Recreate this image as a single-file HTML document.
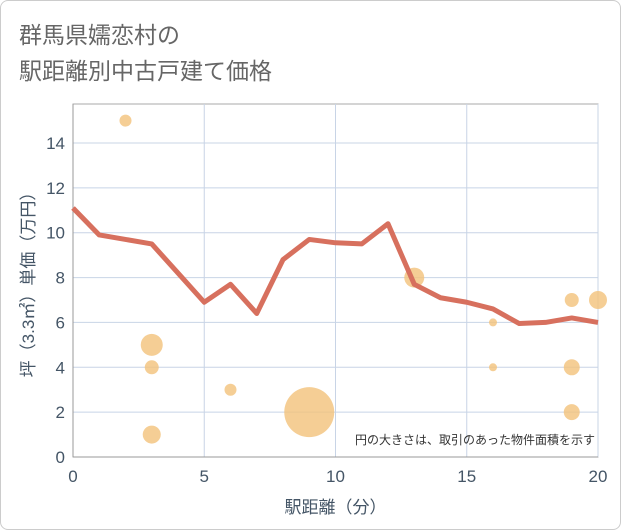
<!DOCTYPE html>
<html><head><meta charset="utf-8">
<style>
body{margin:0;background:#fff;}
#wrap{position:relative;width:619px;height:528px;border:1px solid #ccc;border-radius:8px;overflow:hidden;background:#fff;}
text{font-family:"Liberation Sans","Noto Sans CJK JP",sans-serif;}
</style></head>
<body>
<div id="wrap">
<svg id="chart" width="621" height="530">
<text x="18" y="42" font-size="23" fill="#666">群馬県嬬恋村の</text>
<text x="18" y="78" font-size="23" fill="#666">駅距離別中古戸建て価格</text>
</svg>
</div>
<script>
const xTicks=[0,5,10,15,20];
const yTicks=[0,2,4,6,8,10,12,14];
const lineX=[0,1,2,3,4,5,6,7,8,9,10,11,12,13,14,15,16,17,18,19,20];
const lineY=[11.1,9.9,9.7,9.5,8.2,6.9,7.7,6.4,8.8,9.7,9.55,9.5,10.4,7.7,7.1,6.9,6.6,5.95,6.0,6.2,6.0];
const bubX=[2,3,3,3,6,9,13,16,16,19,19,19,20];
const bubY=[15,5,4,1,3,2,8,6,4,7,4,2,7];
const bubR=[6,11,7,9,6,25,10,4,4,7,8,8,9];
const svg=document.getElementById('chart');
const NS='http://www.w3.org/2000/svg';
const L=72,R=597,T=103,B=456;
const sx=v=>L+(v-0)/(20-0)*(R-L);
const sy=v=>B-(v/14)*(456-142);
function mk(tag,attrs,parent){const e=document.createElementNS(NS,tag);for(const k in attrs)e.setAttribute(k,attrs[k]);(parent||svg).appendChild(e);return e;}
const plot=mk('rect',{x:L,y:T,width:R-L,height:B-T,fill:'#fff',stroke:'#aaa','stroke-width':1});


yTicks.forEach(t=>{
 const g=mk('line',{x1:L,x2:R,y1:sy(t),y2:sy(t),stroke:'#c8d4e6','stroke-width':1});
 
 
 const tx=mk('text',{x:L-8,y:sy(t)+6,'text-anchor':'end','font-size':17,fill:'#445566'});
 tx.textContent=t;
 
 
});
xTicks.forEach(t=>{
 const g=mk('line',{x1:sx(t),x2:sx(t),y1:T,y2:B,stroke:'#c8d4e6','stroke-width':1});
 
 
 const tx=mk('text',{x:sx(t),y:B+25,'text-anchor':'middle','font-size':17,fill:'#445566'});
 tx.textContent=t;
 
 
});
mk('line',{x1:L,x2:L,y1:T,y2:B,stroke:'#999'});
mk('line',{x1:L,x2:R,y1:B,y2:B,stroke:'#999'});
bubX.forEach((x,i)=>{
 const c=mk('circle',{cx:sx(x),cy:sy(bubY[i]),r:bubR[i],fill:'#f3c27a','fill-opacity':0.8});
 
 
});
const pts=lineX.map((x,i)=>sx(x)+','+sy(lineY[i])).join(' ');
const pl=mk('polyline',{points:pts,fill:'none',stroke:'#d7705e','stroke-width':5,'stroke-linejoin':'round'});


const note=mk('text',{x:594,y:443,'text-anchor':'end','font-size':12,fill:'#333'});
note.textContent='円の大きさは、取引のあった物件面積を示す';


const xt=mk('text',{x:(L+R)/2,y:512,'text-anchor':'middle','font-size':17,fill:'#445566'});
xt.textContent='駅距離（分）';


const yt=mk('text',{x:0,y:0,'text-anchor':'middle','font-size':17,fill:'#445566',transform:'translate(33,'+((T+B)/2)+') rotate(-90)'});
yt.textContent='坪（3.3㎡）単価（万円）';


</script>
</body></html>
